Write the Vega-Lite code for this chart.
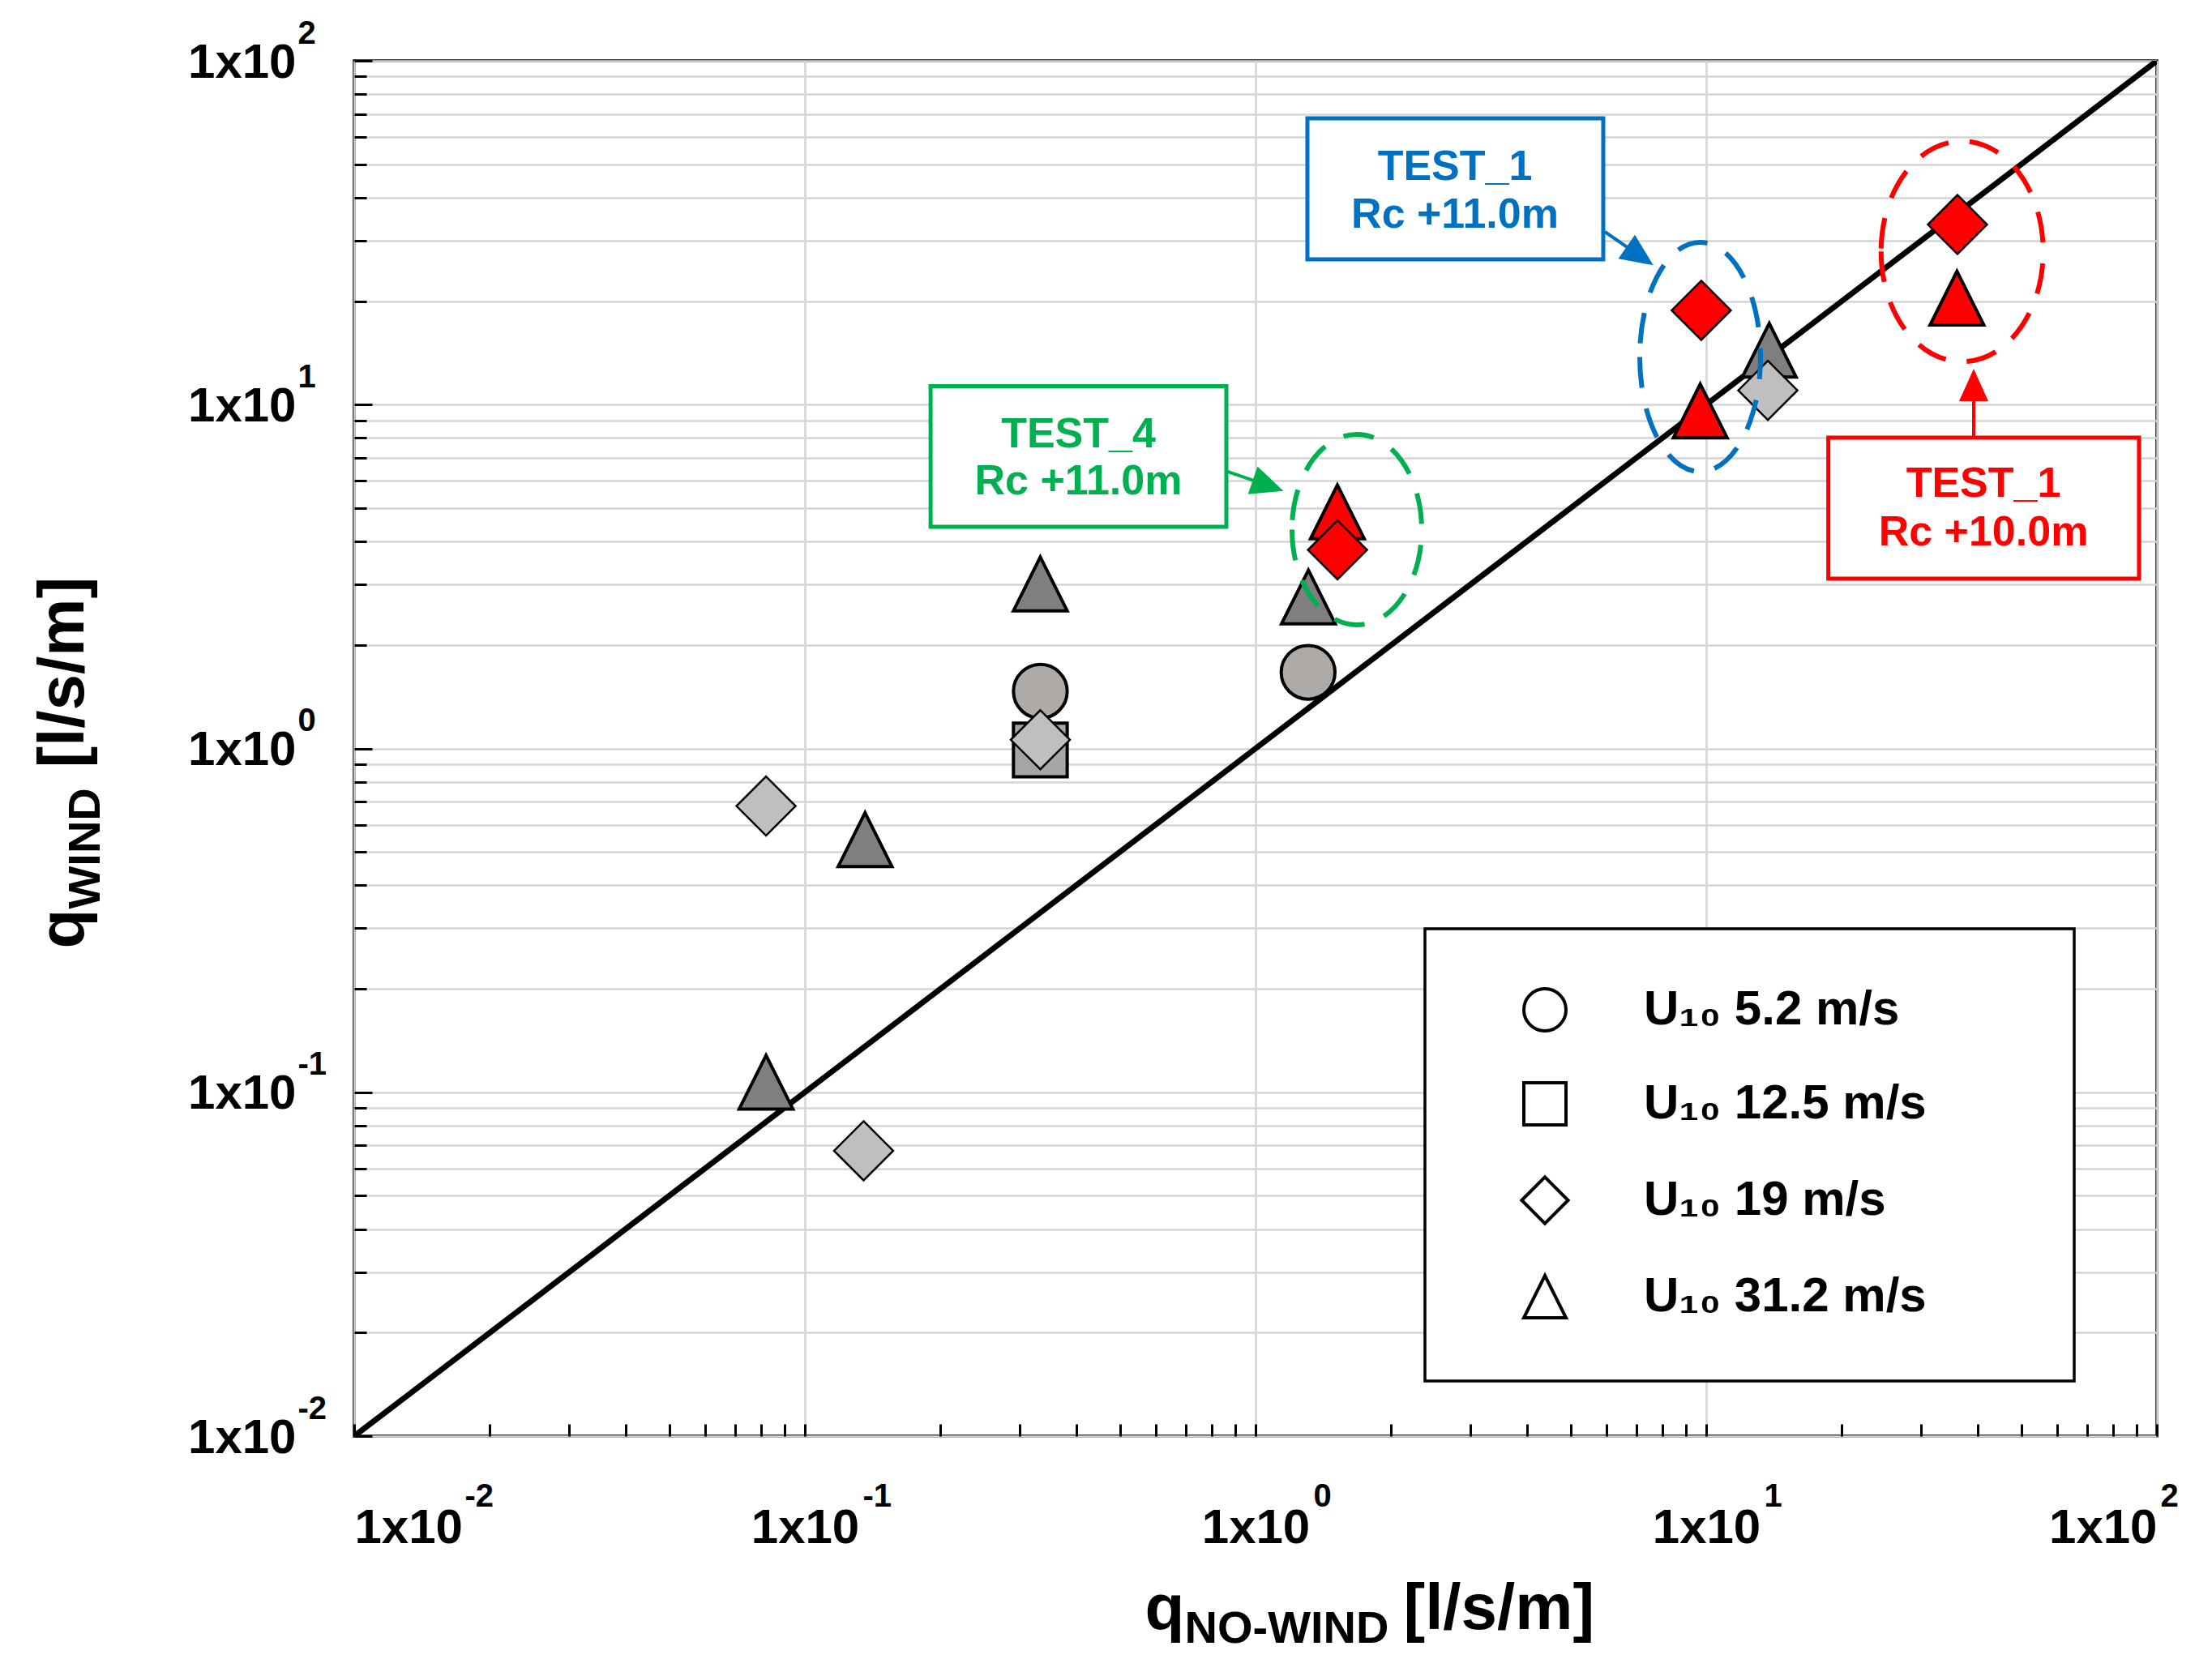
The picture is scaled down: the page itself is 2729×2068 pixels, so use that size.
{
  "$schema": "https://vega.github.io/schema/vega-lite/v6.json",
  "width": 2224,
  "height": 1697,
  "autosize": {"type": "none"},
  "padding": {"left": 437, "top": 75, "right": 68, "bottom": 296},
  "background": "white",
  "config": {
    "view": {"stroke": "black", "strokeWidth": 3.5},
    "font": "Liberation Sans",
    "legend": {"strokeWidth": 3.5},
    "axis": {
      "domain": false,
      "labelFont": "Liberation Sans",
      "labelFontWeight": "bold",
      "labelColor": "black",
      "titleFont": "Liberation Sans",
      "titleFontWeight": "bold",
      "titleColor": "black",
      "labelOverlap": false,
      "labelBound": false,
      "tickColor": "black",
      "tickWidth": 3,
      "gridColor": "#D4D4D4",
      "gridWidth": 2.5,
      "gridOpacity": 1
    }
  },
  "datasets": {
    "diag": [{"x": 0.01, "y": 0.01}, {"x": 100, "y": 100}],
    "pts": [
      {"q_no_wind": 0.082, "q_wind": 0.68, "U10": "U₁₀ 19 m/s", "test": "base"},
      {"q_no_wind": 0.136, "q_wind": 0.543, "U10": "U₁₀ 31.2 m/s", "test": "base"},
      {"q_no_wind": 0.333, "q_wind": 1.466, "U10": "U₁₀ 5.2 m/s", "test": "base"},
      {"q_no_wind": 0.333, "q_wind": 0.99, "U10": "U₁₀ 12.5 m/s", "test": "base"},
      {"q_no_wind": 0.333, "q_wind": 1.06, "U10": "U₁₀ 19 m/s", "test": "base"},
      {"q_no_wind": 0.333, "q_wind": 3.01, "U10": "U₁₀ 31.2 m/s", "test": "base"},
      {"q_no_wind": 0.082, "q_wind": 0.107, "U10": "U₁₀ 31.2 m/s", "test": "base"},
      {"q_no_wind": 0.135, "q_wind": 0.0676, "U10": "U₁₀ 19 m/s", "test": "base"},
      {"q_no_wind": 1.308, "q_wind": 1.665, "U10": "U₁₀ 5.2 m/s", "test": "base"},
      {"q_no_wind": 1.31, "q_wind": 2.758, "U10": "U₁₀ 31.2 m/s", "test": "base"},
      {"q_no_wind": 13.7, "q_wind": 11.0, "U10": "U₁₀ 19 m/s", "test": "base"},
      {"q_no_wind": 13.8, "q_wind": 14.4, "U10": "U₁₀ 31.2 m/s", "test": "base"},
      {"q_no_wind": 1.519, "q_wind": 4.876, "U10": "U₁₀ 31.2 m/s", "test": "TEST"},
      {"q_no_wind": 1.52, "q_wind": 3.78, "U10": "U₁₀ 19 m/s", "test": "TEST"},
      {"q_no_wind": 9.75, "q_wind": 18.8, "U10": "U₁₀ 19 m/s", "test": "TEST"},
      {"q_no_wind": 9.7, "q_wind": 9.59, "U10": "U₁₀ 31.2 m/s", "test": "TEST"},
      {"q_no_wind": 36.1, "q_wind": 33.4, "U10": "U₁₀ 19 m/s", "test": "TEST"},
      {"q_no_wind": 36.0, "q_wind": 20.4, "U10": "U₁₀ 31.2 m/s", "test": "TEST"}
    ],
    "ell": [
      {"cx": 9.694, "cy": 13.76, "box": "TEST_1 +11.0m"},
      {"cx": 1.678, "cy": 4.33, "box": "TEST_4 +11.0m"},
      {"cx": 36.97, "cy": 27.9, "box": "TEST_1 +10.0m"}
    ],
    "boxes": [
      {"x1": 1.3034, "x2": 5.909, "y1": 68.03, "y2": 26.46, "box": "TEST_1 +11.0m"},
      {"x1": 0.1901, "x2": 0.8615, "y1": 11.31, "y2": 4.413, "box": "TEST_4 +11.0m"},
      {"x1": 18.66, "x2": 91.29, "y1": 8.015, "y2": 3.117, "box": "TEST_1 +10.0m"}
    ],
    "notes": [
      {"x": 2.770, "y": 45.03, "label": "TEST_1", "box": "TEST_1 +11.0m"},
      {"x": 2.770, "y": 32.69, "label": "Rc +11.0m", "box": "TEST_1 +11.0m"},
      {"x": 0.4046, "y": 7.530, "label": "TEST_4", "box": "TEST_4 +11.0m"},
      {"x": 0.4046, "y": 5.482, "label": "Rc +11.0m", "box": "TEST_4 +11.0m"},
      {"x": 41.22, "y": 5.408, "label": "TEST_1", "box": "TEST_1 +10.0m"},
      {"x": 41.22, "y": 3.895, "label": "Rc +10.0m", "box": "TEST_1 +10.0m"}
    ],
    "arrows": [
      {"x1": 5.958, "y1": 31.82, "x2": 7.128, "y2": 27.06, "box": "TEST_1 +11.0m"},
      {"x1": 0.867, "y1": 6.383, "x2": 1.0663, "y2": 5.815, "box": "TEST_4 +11.0m"},
      {"x1": 39.22, "y1": 8.015, "x2": 39.22, "y2": 11.41, "box": "TEST_1 +10.0m"}
    ]
  },
  "resolve": {
    "axis": {"x": "independent", "y": "independent"},
    "scale": {"shape": "independent"}
  },
  "layer": [
    {
      "data": {"name": "diag"},
      "mark": {"type": "line", "color": "black", "strokeWidth": 7, "clip": true},
      "encoding": {
        "x": {
          "field": "x", "type": "quantitative",
          "scale": {"type": "log", "domain": [0.01, 100], "nice": false},
          "axis": {
            "orient": "bottom",
            "values": [0.01, 0.1, 1, 10, 100],
            "labelExpr": "'' + round(log(datum.value) / LN10)",
            "ticks": false, "grid": false,
            "labelFontSize": 40, "labelAlign": "left", "labelBaseline": "alphabetic",
            "labelFlush": false, "labelPadding": 86,
            "labelOffset": {
              "condition": [
                {"test": "datum.value < 0.02", "value": 136},
                {"test": "datum.value > 50", "value": 4}
              ],
              "value": 71
            },
            "title": "NO-WIND", "titleFontSize": 56, "titleX": 1024, "titleY": 254,
            "titleAlign": "left", "titleBaseline": "alphabetic", "titleAngle": 0
          }
        },
        "y": {
          "field": "y", "type": "quantitative",
          "scale": {"type": "log", "domain": [0.01, 100], "nice": false},
          "axis": {
            "orient": "left",
            "values": [0.01, 0.1, 1, 10, 100],
            "labelExpr": "'' + round(log(datum.value) / LN10)",
            "ticks": false, "grid": false,
            "labelFontSize": 40, "labelAlign": "left", "labelBaseline": "alphabetic",
            "labelFlush": false, "labelPadding": 70, "labelOffset": -22,
            "title": "WIND", "titleFontSize": 56, "titleAngle": 270,
            "titleX": -315, "titleY": 1046, "titleAlign": "left", "titleBaseline": "alphabetic"
          }
        }
      }
    },
    {
      "data": {"name": "pts"},
      "transform": [{"filter": "datum.test == 'base' && datum.U10 != 'U₁₀ 19 m/s'"}],
      "mark": {"type": "point", "filled": true, "opacity": 1, "stroke": "black", "strokeWidth": 4, "size": 4400},
      "encoding": {
        "x": {
          "field": "q_no_wind", "type": "quantitative",
          "scale": {"type": "log", "domain": [0.01, 100], "nice": false},
          "axis": {
            "orient": "bottom",
            "values": [0.01, 0.1, 1, 10, 100],
            "labelExpr": "'1x10'",
            "ticks": false, "grid": true,
            "labelFontSize": 60, "labelBaseline": "alphabetic",
            "labelPadding": 131, "labelFlush": true,
            "title": "q", "titleFontSize": 80, "titleX": 975, "titleY": 237,
            "titleAlign": "left", "titleBaseline": "alphabetic", "titleAngle": 0
          }
        },
        "y": {
          "field": "q_wind", "type": "quantitative",
          "scale": {"type": "log", "domain": [0.01, 100], "nice": false},
          "axis": {
            "orient": "left",
            "values": [0.01, 0.02, 0.03, 0.04, 0.05, 0.06, 0.07, 0.08, 0.09, 0.1, 0.2, 0.3, 0.4, 0.5, 0.6, 0.7, 0.8, 0.9, 1, 2, 3, 4, 5, 6, 7, 8, 9, 10, 20, 30, 40, 50, 60, 70, 80, 90, 100],
            "labelExpr": "indexof([0.01, 0.1, 1, 10, 100], datum.value) >= 0 ? '1x10' : ''",
            "ticks": false, "grid": true,
            "labelFontSize": 60, "labelAlign": "right", "labelBaseline": "alphabetic",
            "labelPadding": 72, "labelOffset": 20, "labelFlush": false,
            "title": "q", "titleFontSize": 80, "titleAngle": 270,
            "titleX": -335, "titleY": 1095, "titleAlign": "left", "titleBaseline": "alphabetic"
          }
        },
        "shape": {
          "field": "U10", "type": "nominal",
          "scale": {
            "domain": ["U₁₀ 5.2 m/s", "U₁₀ 12.5 m/s", "U₁₀ 19 m/s", "U₁₀ 31.2 m/s"],
            "range": ["circle", "square", "M0,-1.1L1.1,0L0,1.1L-1.1,0Z", "M0,-1L1,1L-1,1Z"]
          },
          "legend": {
            "orient": "none", "legendX": 1321, "legendY": 1071,
            "title": " ", "titleOrient": "right", "titlePadding": 112, "titleFontSize": 20,
            "padding": 70, "strokeColor": "black", "fillColor": "white",
            "symbolOffset": 48, "labelOffset": 92, "rowPadding": 48,
            "symbolSize": 2704, "symbolStrokeWidth": 4,
            "symbolFillColor": "white", "symbolStrokeColor": "black",
            "labelFont": "Liberation Sans", "labelFontSize": 60, "labelFontWeight": "bold",
            "labelColor": "black", "labelLimit": 1000,
            "encode": {
              "legend": {"strokeWidth": {"value": 3.5}, "stroke": {"value": "black"}},
              "symbols": {"fill": {"value": "white"}, "stroke": {"value": "black"}, "strokeWidth": {"value": 4.5}}
            }
          }
        },
        "fill": {
          "field": "U10", "type": "nominal",
          "scale": {
            "domain": ["U₁₀ 5.2 m/s", "U₁₀ 12.5 m/s", "U₁₀ 19 m/s", "U₁₀ 31.2 m/s"],
            "range": ["#ADAAA8", "#A6A6A6", "#BFBFBF", "#7F7F7F"]
          },
          "legend": null
        }
      }
    },
    {
      "data": {"name": "pts"},
      "transform": [{"filter": "datum.test == 'base' && datum.U10 == 'U₁₀ 19 m/s'"}],
      "mark": {"type": "point", "filled": true, "opacity": 1, "stroke": "black", "strokeWidth": 2.5, "size": 4400},
      "encoding": {
        "x": {"field": "q_no_wind", "type": "quantitative", "scale": {"type": "log", "domain": [0.01, 100], "nice": false}, "axis": null},
        "y": {"field": "q_wind", "type": "quantitative", "scale": {"type": "log", "domain": [0.01, 100], "nice": false}, "axis": null},
        "shape": {
          "field": "U10", "type": "nominal",
          "scale": {
            "domain": ["U₁₀ 5.2 m/s", "U₁₀ 12.5 m/s", "U₁₀ 19 m/s", "U₁₀ 31.2 m/s"],
            "range": ["circle", "square", "M0,-1.1L1.1,0L0,1.1L-1.1,0Z", "M0,-1L1,1L-1,1Z"]
          },
          "legend": null
        },
        "fill": {
          "field": "U10", "type": "nominal",
          "scale": {
            "domain": ["U₁₀ 5.2 m/s", "U₁₀ 12.5 m/s", "U₁₀ 19 m/s", "U₁₀ 31.2 m/s"],
            "range": ["#ADAAA8", "#A6A6A6", "#BFBFBF", "#7F7F7F"]
          },
          "legend": null
        }
      }
    },
    {
      "data": {"name": "pts"},
      "transform": [{"filter": "datum.test == 'TEST'"}],
      "mark": {"type": "point", "filled": true, "opacity": 1, "stroke": "black", "fill": "#FF0000", "size": 4400},
      "encoding": {
        "x": {"field": "q_no_wind", "type": "quantitative", "scale": {"type": "log", "domain": [0.01, 100], "nice": false}, "axis": null},
        "y": {"field": "q_wind", "type": "quantitative", "scale": {"type": "log", "domain": [0.01, 100], "nice": false}, "axis": null},
        "shape": {
          "field": "U10", "type": "nominal",
          "scale": {
            "domain": ["U₁₀ 5.2 m/s", "U₁₀ 12.5 m/s", "U₁₀ 19 m/s", "U₁₀ 31.2 m/s"],
            "range": ["circle", "square", "M0,-1.1L1.1,0L0,1.1L-1.1,0Z", "M0,-1L1,1L-1,1Z"]
          },
          "legend": null
        },
        "strokeWidth": {
          "condition": {"test": "datum.U10 == 'U₁₀ 19 m/s'", "value": 2.5},
          "value": 4
        }
      }
    },
    {
      "data": {"name": "ell"},
      "mark": {"type": "point", "filled": false, "opacity": 1, "strokeWidth": 6, "strokeDash": [38, 26], "size": 40000},
      "encoding": {
        "x": {"field": "cx", "type": "quantitative", "scale": {"type": "log", "domain": [0.01, 100], "nice": false}, "axis": null},
        "y": {"field": "cy", "type": "quantitative", "scale": {"type": "log", "domain": [0.01, 100], "nice": false}, "axis": null},
        "shape": {
          "field": "box", "type": "nominal",
          "scale": {
            "domain": ["TEST_1 +11.0m", "TEST_4 +11.0m", "TEST_1 +10.0m"],
            "range": [
              "M-0.745,0A0.745,1.415 0 1,0 0.745,0A0.745,1.415 0 1,0 -0.745,0Z",
              "M-0.8,0A0.8,1.175 0 1,0 0.8,0A0.8,1.175 0 1,0 -0.8,0Z",
              "M-1,0A1,1.36 0 1,0 1,0A1,1.36 0 1,0 -1,0Z"
            ]
          },
          "legend": null
        },
        "stroke": {
          "field": "box", "type": "nominal",
          "scale": {"domain": ["TEST_1 +11.0m", "TEST_4 +11.0m", "TEST_1 +10.0m"], "range": ["#0070C0", "#00B050", "#FF0000"]},
          "legend": null
        }
      }
    },
    {
      "data": {"name": "boxes"},
      "mark": {"type": "rect", "fill": "white", "strokeWidth": 5},
      "encoding": {
        "x": {
          "field": "x1", "type": "quantitative",
          "scale": {"type": "log", "domain": [0.01, 100], "nice": false},
          "axis": {
            "orient": "bottom",
            "values": [0.01, 0.02, 0.03, 0.04, 0.05, 0.06, 0.07, 0.08, 0.09, 0.1, 0.2, 0.3, 0.4, 0.5, 0.6, 0.7, 0.8, 0.9, 1, 2, 3, 4, 5, 6, 7, 8, 9, 10, 20, 30, 40, 50, 60, 70, 80, 90, 100],
            "labels": false, "grid": false, "ticks": true, "tickSize": -15,
            "title": "[l/s/m]", "titleFontSize": 80, "titleX": 1294, "titleY": 237,
            "titleAlign": "left", "titleBaseline": "alphabetic", "titleAngle": 0
          }
        },
        "x2": {"field": "x2"},
        "y": {
          "field": "y1", "type": "quantitative",
          "scale": {"type": "log", "domain": [0.01, 100], "nice": false},
          "axis": {
            "orient": "left",
            "values": [0.01, 0.02, 0.03, 0.04, 0.05, 0.06, 0.07, 0.08, 0.09, 0.1, 0.2, 0.3, 0.4, 0.5, 0.6, 0.7, 0.8, 0.9, 1, 2, 3, 4, 5, 6, 7, 8, 9, 10, 20, 30, 40, 50, 60, 70, 80, 90, 100],
            "labels": false, "grid": false, "ticks": true,
            "tickSize": {"condition": {"test": "indexof([0.01, 0.1, 1, 10, 100], datum.value) >= 0", "value": -22}, "value": -15},
            "title": "[l/s/m]", "titleFontSize": 80, "titleAngle": 270,
            "titleX": -335, "titleY": 872, "titleAlign": "left", "titleBaseline": "alphabetic"
          }
        },
        "y2": {"field": "y2"},
        "stroke": {
          "field": "box", "type": "nominal",
          "scale": {"domain": ["TEST_1 +11.0m", "TEST_4 +11.0m", "TEST_1 +10.0m"], "range": ["#0070C0", "#00B050", "#FF0000"]},
          "legend": null
        }
      }
    },
    {
      "data": {"name": "notes"},
      "mark": {"type": "text", "font": "Liberation Sans", "fontWeight": "bold", "fontSize": 52, "align": "center", "baseline": "alphabetic"},
      "encoding": {
        "x": {"field": "x", "type": "quantitative", "scale": {"type": "log", "domain": [0.01, 100], "nice": false}, "axis": null},
        "y": {"field": "y", "type": "quantitative", "scale": {"type": "log", "domain": [0.01, 100], "nice": false}, "axis": null},
        "text": {"field": "label"},
        "color": {
          "field": "box", "type": "nominal",
          "scale": {"domain": ["TEST_1 +11.0m", "TEST_4 +11.0m", "TEST_1 +10.0m"], "range": ["#0070C0", "#00B050", "#FF0000"]},
          "legend": null
        }
      }
    },
    {
      "data": {"name": "arrows"},
      "mark": {"type": "rule", "strokeWidth": 4},
      "encoding": {
        "x": {"field": "x1", "type": "quantitative", "scale": {"type": "log", "domain": [0.01, 100], "nice": false}, "axis": null},
        "y": {"field": "y1", "type": "quantitative", "scale": {"type": "log", "domain": [0.01, 100], "nice": false}, "axis": null},
        "x2": {"field": "x2"},
        "y2": {"field": "y2"},
        "stroke": {
          "field": "box", "type": "nominal",
          "scale": {"domain": ["TEST_1 +11.0m", "TEST_4 +11.0m", "TEST_1 +10.0m"], "range": ["#0070C0", "#00B050", "#FF0000"]},
          "legend": null
        }
      }
    },
    {
      "data": {"name": "arrows"},
      "mark": {"type": "point", "filled": true, "opacity": 1, "size": 1600, "strokeWidth": 0},
      "encoding": {
        "x": {"field": "x2", "type": "quantitative", "scale": {"type": "log", "domain": [0.01, 100], "nice": false}, "axis": null},
        "y": {"field": "y2", "type": "quantitative", "scale": {"type": "log", "domain": [0.01, 100], "nice": false}, "axis": null},
        "shape": {
          "field": "box", "type": "nominal",
          "scale": {
            "domain": ["TEST_1 +11.0m", "TEST_4 +11.0m", "TEST_1 +10.0m"],
            "range": ["M0.823,0.568L-1.334,0.173L-0.312,-1.309Z", "M0.946,0.325L-1.239,0.526L-0.654,-1.176Z", "M0,-1L0.9,1L-0.9,1Z"]
          },
          "legend": null
        },
        "color": {
          "field": "box", "type": "nominal",
          "scale": {"domain": ["TEST_1 +11.0m", "TEST_4 +11.0m", "TEST_1 +10.0m"], "range": ["#0070C0", "#00B050", "#FF0000"]},
          "legend": null
        }
      }
    }
  ]
}
